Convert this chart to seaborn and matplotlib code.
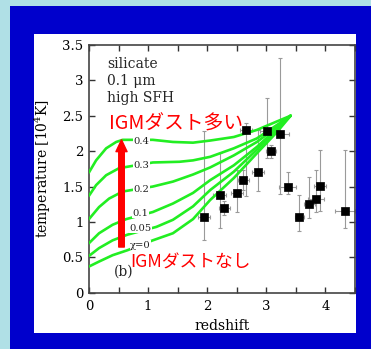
import matplotlib
matplotlib.use("Agg")
import matplotlib.pyplot as plt
from matplotlib.patches import Rectangle
import seaborn as sns
import pandas as pd
import numpy as np

# ---- model curves (chi values) ----
chi_labels = ["0.4", "0.3", "0.2", "0.1", "0.05", "χ=0"]
c04_x = [0, 0.12, 0.29, 0.46, 0.57, 1.08, 1.42, 1.76, 2.05, 2.45, 2.84, 3.18, 3.41]
c04_y = [1.70, 1.87, 2.04, 2.13, 2.16, 2.16, 2.13, 2.12, 2.15, 2.20, 2.30, 2.42, 2.50]
c03_x = [0, 0.12, 0.29, 0.51, 1.08, 1.53, 1.76, 2.05, 2.45, 2.84, 3.18, 3.41]
c03_y = [1.37, 1.52, 1.66, 1.76, 1.84, 1.85, 1.87, 1.92, 2.04, 2.18, 2.37, 2.50]
c02_x = [0, 0.17, 0.34, 0.57, 1.08, 1.42, 1.76, 2.05, 2.45, 2.84, 3.18, 3.41]
c02_y = [1.04, 1.21, 1.33, 1.43, 1.50, 1.57, 1.67, 1.77, 1.94, 2.13, 2.34, 2.50]
c01_x = [0, 0.17, 0.40, 0.63, 1.08, 1.42, 1.76, 2.05, 2.45, 2.84, 3.18, 3.41]
c01_y = [0.70, 0.84, 0.96, 1.04, 1.14, 1.26, 1.41, 1.59, 1.80, 2.06, 2.32, 2.50]
c005_x = [0, 0.17, 0.40, 0.65, 1.14, 1.42, 1.76, 2.05, 2.45, 2.84, 3.18, 3.41]
c005_y = [0.52, 0.63, 0.74, 0.82, 0.93, 1.03, 1.22, 1.45, 1.71, 2.02, 2.30, 2.50]
c0_x = [0, 0.17, 0.40, 0.65, 1.08, 1.42, 1.76, 2.05, 2.45, 2.84, 3.18, 3.41]
c0_y = [0.37, 0.44, 0.53, 0.60, 0.74, 0.84, 1.04, 1.31, 1.62, 1.97, 2.27, 2.50]

# label positions for curves
lab_x = [0.89, 0.89, 0.89, 0.87, 0.87, 0.87]
lab_y = [2.14, 1.80, 1.46, 1.12, 0.91, 0.67]

# ---- observations ----
obs_z = [1.95, 2.21, 2.29, 2.51, 2.61, 2.86, 2.66, 3.01, 3.23, 3.08, 3.36, 3.56, 3.73, 3.84, 3.91, 4.33]
obs_T = [1.07, 1.38, 1.20, 1.41, 1.59, 1.70, 2.30, 2.29, 2.24, 2.00, 1.50, 1.07, 1.26, 1.32, 1.51, 1.15]
obs_lo = [0.75, 0.91, 1.10, 1.14, 1.45, 1.44, 1.36, 1.90, 1.40, 1.90, 1.39, 0.87, 1.06, 1.14, 1.16, 0.92]
obs_hi = [2.29, 1.97, 1.30, 1.73, 1.73, 2.30, 2.40, 2.75, 3.31, 2.09, 1.70, 1.38, 1.64, 1.73, 2.01, 2.02]
obs_xerr = [0.10, 0.11, 0.09, 0.10, 0.09, 0.10, 0.10, 0.11, 0.15, 0.09, 0.14, 0.07, 0.10, 0.13, 0.10, 0.17]

xtick_vals = [0, 0.5, 1, 1.5, 2, 2.5, 3, 3.5, 4, 4.5]
xtick_labels = ["0", "", "1", "", "2", "", "3", "", "4", ""]
ytick_vals = [0, 0.5, 1, 1.5, 2, 2.5, 3, 3.5]
ytick_labels = ["0", "0.5", "1", "1.5", "2", "2.5", "3", "3.5"]

curves = [(c04_x, c04_y), (c03_x, c03_y), (c02_x, c02_y),
          (c01_x, c01_y), (c005_x, c005_y), (c0_x, c0_y)]
df = pd.concat([pd.DataFrame({"z": cx, "T": cy, "chi": lab})
                for (cx, cy), lab in zip(curves, chi_labels)], ignore_index=True)

sns.set_theme(style="ticks")
plt.rcParams["font.family"] = ["DejaVu Serif"]
plt.rcParams["mathtext.fontset"] = "dejavuserif"

W, H = 371, 349
fig = plt.figure(figsize=(W / 100, H / 100), dpi=100)
fig.patch.set_facecolor("#B0E0E6")
fig.add_artist(Rectangle((10 / W, 0), 361 / W, 343 / H, transform=fig.transFigure,
                         facecolor="#0000CC", edgecolor="none", zorder=-10))
fig.add_artist(Rectangle((34 / W, 16 / H), 322 / W, 299 / H, transform=fig.transFigure,
                         facecolor="white", edgecolor="none", zorder=-9))

ax = fig.add_axes([89 / W, 56.3 / H, 266 / W, 247.7 / H])
ax.set_facecolor("white")

ax.errorbar(obs_z, obs_T,
            yerr=[np.array(obs_T) - np.array(obs_lo), np.array(obs_hi) - np.array(obs_T)],
            xerr=obs_xerr, fmt="none", ecolor="#9a9a9a", elinewidth=0.8,
            capsize=1.3, capthick=0.8, zorder=2)

sns.lineplot(data=df, x="z", y="T", units="chi", estimator=None, sort=False,
             color="#22ee22", lw=1.9, ax=ax, legend=False, zorder=3)

sns.scatterplot(x=obs_z, y=obs_T, marker="s", s=34, color="black",
                edgecolor="black", linewidth=0.5, ax=ax, zorder=5)

for lx, ly, lab in zip(lab_x, lab_y, chi_labels):
    ax.text(lx, ly, lab, fontsize=7.2, ha="center", va="center", color="#222222",
            bbox=dict(facecolor="white", edgecolor="none", pad=0.3), zorder=4)

# red arrow
ax.annotate("", xy=(0.55, 2.16), xytext=(0.55, 0.645),
            arrowprops=dict(arrowstyle="simple,head_length=0.85,head_width=0.8,tail_width=0.4",
                            color="red", mutation_scale=10, shrinkA=0, shrinkB=0),
            zorder=6)

jp = ["Noto Sans CJK JP", "DejaVu Sans"]
ax.text(0.33, 2.30, "IGMダスト多い", color="red", fontsize=14.2, family=jp,
        ha="left", va="baseline", zorder=7)
ax.text(0.70, 0.36, "IGMダストなし", color="red", fontsize=12.8, family=jp,
        ha="left", va="baseline", zorder=7)

ax.text(0.305, 3.18, "silicate", fontsize=10, ha="left", va="baseline")
ax.text(0.305, 2.94, "0.1 μm", fontsize=10, ha="left", va="baseline")
ax.text(0.305, 2.70, "high SFH", fontsize=10, ha="left", va="baseline")
ax.text(0.42, 0.24, "(b)", fontsize=10, ha="left", va="baseline")

ax.set_xlim(0, 4.5)
ax.set_ylim(0, 3.5)
ax.set_xticks(xtick_vals)
ax.set_xticklabels(xtick_labels)
ax.set_yticks(ytick_vals)
ax.set_yticklabels(ytick_labels)
ax.tick_params(direction="in", top=True, right=True, length=4.3, width=1.0,
               labelsize=9.5, colors="#333333", labelcolor="black")
ax.tick_params(axis="x", pad=5)
ax.tick_params(axis="y", pad=4)
for sp in ax.spines.values():
    sp.set_color("#444444")
    sp.set_linewidth(1.2)

ax.set_xlabel("redshift", fontsize=10, color="black")
ax.set_ylabel("temperature [10$^4$K]", fontsize=10, color="black")
ax.xaxis.set_label_coords(0.5, -0.106)
ax.xaxis.label.set_va("top")
ax.yaxis.set_label_coords(-0.134, 0.5)

fig.savefig("out.png", dpi=100, facecolor=fig.get_facecolor())
